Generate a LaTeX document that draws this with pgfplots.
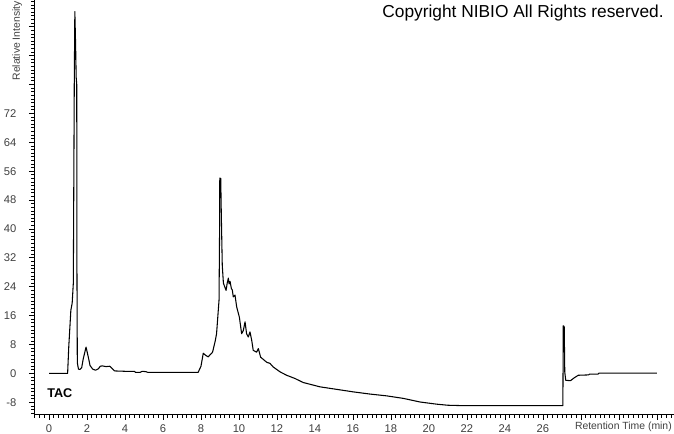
\documentclass[border=0pt]{standalone}
\usepackage{fontspec}
\setmainfont{Liberation Sans}
\usepackage{pgfplots}
\pgfplotsset{compat=1.18}

\pgfplotstableread{
t y
0.00 0.0
0.98 0.0
1.04 7.4
1.15 17.5
1.22 19.5
1.28 25.0
1.33 80.0
1.36 100.2
1.40 91.0
1.43 82.0
1.46 80.0
1.47 30.0
1.49 3.0
1.55 1.2
1.63 1.1
1.72 1.6
1.80 4.0
1.95 7.3
2.07 4.5
2.16 2.2
2.30 1.2
2.45 0.9
2.60 1.3
2.70 2.0
2.80 2.1
3.00 1.9
3.20 2.0
3.30 1.5
3.45 0.7
4.00 0.6
4.50 0.6
4.55 0.3
4.80 0.3
4.90 0.6
5.10 0.5
5.20 0.3
7.85 0.3
8.00 2.0
8.12 5.6
8.25 5.0
8.38 4.6
8.61 5.9
8.75 9.0
8.82 11.0
8.95 20.3
8.98 40.0
8.99 54.1
9.04 54.0
9.07 44.0
9.12 30.0
9.18 25.0
9.25 24.0
9.32 23.0
9.38 25.0
9.44 26.4
9.48 24.8
9.53 25.5
9.60 23.5
9.65 23.1
9.70 21.2
9.79 21.7
9.88 18.4
10.02 15.6
10.14 11.0
10.23 11.9
10.32 14.3
10.40 11.0
10.49 10.1
10.58 11.5
10.67 9.2
10.75 6.4
10.93 5.9
11.02 6.9
11.14 4.5
11.46 3.1
11.63 2.8
11.80 1.8
12.16 0.45
12.51 -0.5
12.95 -1.4
13.38 -2.5
14.26 -3.7
15.14 -4.4
16.02 -5.1
16.89 -5.7
17.77 -6.2
18.65 -6.9
19.53 -7.9
20.40 -8.5
21.00 -8.8
21.72 -8.9
27.05 -8.9
27.07 13.2
27.12 13.0
27.15 0.4
27.20 -1.9
27.45 -2.0
27.65 -1.2
27.86 -0.5
28.40 -0.4
28.45 -0.2
28.90 -0.2
28.95 0.1
32.00 0.1
}\tac

\begin{document}
\begin{tikzpicture}
\begin{axis}[
  scale only axis,
  width=480pt, height=311.25pt,
  xmin=-0.79, xmax=32.9,
  ymin=-11.5, ymax=103.4,
  axis x line=bottom, axis y line=left,
  axis line style={-, line width=0.75pt},
  tick align=outside,
  xtick={0,2,...,26},
  extra x ticks={28,30,32}, extra x tick labels={},
  minor xtick={-0.75,-0.5,...,32.75},
  ytick={-8,0,...,72},
  extra y ticks={80,88,96}, extra y tick labels={},
  minor ytick={-11,-10,...,103},
  major tick length=3.75pt, minor tick length=2pt,
  tick style={black, line width=0.6pt},
  ticklabel style={font=\fontsize{8.4}{9}\selectfont, text=black!75},
  yticklabel style={xshift=-6pt},
  /pgf/number format/assume math mode=true,
  clip=false,
]
\addplot[black, line width=0.8pt, line join=round] table[x=t, y=y] {\tac};
\end{axis}
\pgfresetboundingbox
\path[use as bounding box] (-25.5pt,-14.25pt) rectangle (480pt,311.25pt);
\node[rotate=90, anchor=east, inner sep=0pt, font=\fontsize{7.8}{8}\selectfont, text=black!75] at (-12.6pt,310.5pt) {Relative Intensity};
\node[anchor=east, inner sep=0pt, font=\fontsize{7.8}{8}\selectfont, text=black!75] at (478.5pt,-9pt) {Retention Time (min)};
\node[anchor=west, inner sep=0pt, font=\fontsize{9.5}{10}\selectfont\bfseries] at (9.75pt,16.5pt) {TAC};
\node[anchor=center, inner sep=0pt, font=\fontsize{13}{14}\selectfont] at (366.75pt,301.5pt) {Copyright NIBIO All Rights reserved.};
\end{tikzpicture}
\end{document}
